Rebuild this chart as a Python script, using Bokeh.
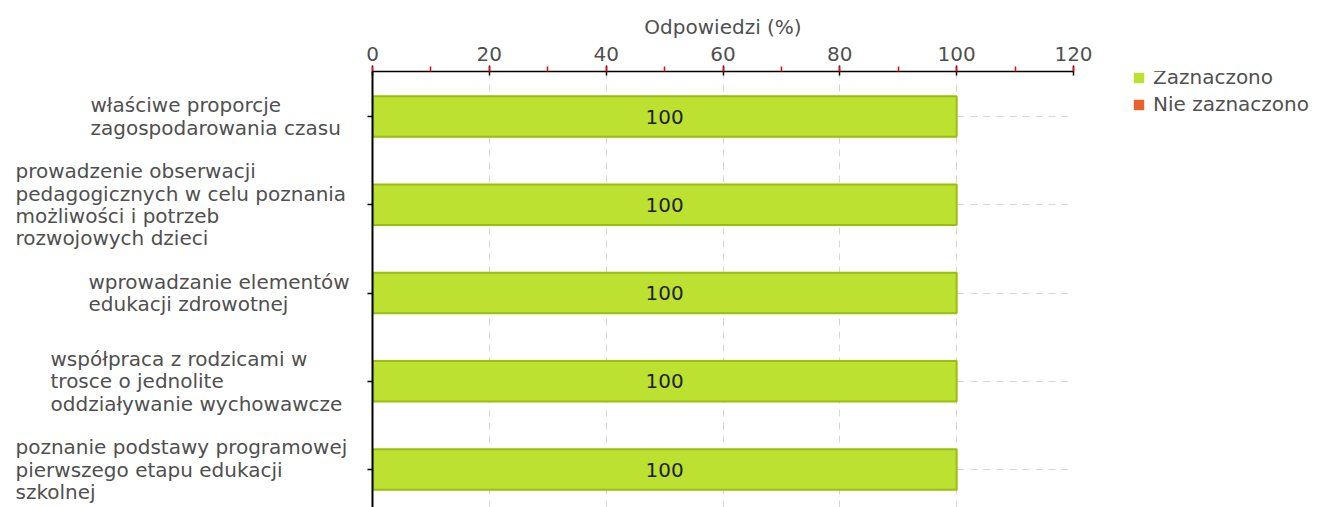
from bokeh.plotting import figure
from bokeh.layouts import row
from bokeh.models import (ColumnDataSource, Range1d, FixedTicker, SingleIntervalTicker,
                          Legend, LegendItem)
from bokeh.core.properties import value
from bokeh.embed import file_html
from bokeh.resources import INLINE

# ---- data ----
categories = [
    "właściwe proporcje\nzagospodarowania czasu",
    "prowadzenie obserwacji\npedagogicznych w celu poznania\nmożliwości i potrzeb\nrozwojowych dzieci",
    "wprowadzanie elementów\nedukacji zdrowotnej",
    "współpraca z rodzicami w\ntrosce o jednolite\noddziaływanie wychowawcze",
    "poznanie podstawy programowej\npierwszego etapu edukacji\nszkolnej",
]
zaznaczono = [100, 100, 100, 100, 100]
nie_zaznaczono = [0, 0, 0, 0, 0]
x_ticks_interval = 20
x_max = 120
axis_title = "Odpowiedzi (%)"
series_names = ["Zaznaczono", "Nie zaznaczono"]

# ---- style / layout ----
FONT = "DejaVu Sans"
GREEN = "#bde130"
GREEN_LINE = "#98bf0c"
ORANGE = "#e8632b"
TXT = "#505050"
label_left_px = [90, 15, 88, 50, 15]   # left edge of each label block
H = 507
TOP = 71
LEFT_W = 360
MAIN_BL = 12
MAIN_BR = 40
FRAME_W = 701
LEG_W = 1317 - LEFT_W - MAIN_BL - FRAME_W - MAIN_BR

idx = list(range(len(categories)))
src = ColumnDataSource(dict(
    y=idx,
    z=zaznaczono,
    nz_left=zaznaczono,
    nz_right=[a + b for a, b in zip(zaznaczono, nie_zaznaczono)],
    zero=[0] * len(idx),
    mid=[v / 2 for v in zaznaczono],
    lab=[str(v) for v in zaznaczono],
    cat=categories,
    lx=label_left_px,
))

y_range = Range1d(start=4.43, end=-0.51)

# ---- main chart ----
p = figure(width=MAIN_BL + FRAME_W + MAIN_BR, height=H, x_range=Range1d(0, x_max),
           y_range=y_range, x_axis_location="above",
           output_backend="svg", toolbar_location=None, min_border_left=MAIN_BL,
           min_border_right=MAIN_BR, min_border_top=TOP, min_border_bottom=0)
p.outline_line_color = None
p.background_fill_color = "white"

xa = p.xaxis[0]
xa.ticker = SingleIntervalTicker(interval=x_ticks_interval, num_minor_ticks=2)
xa.axis_label = axis_title
xa.axis_label_text_font = FONT
xa.axis_label_text_font_size = "20px"
xa.axis_label_text_font_style = "normal"
xa.axis_label_text_color = TXT
xa.axis_label_standoff = 5
xa.major_label_text_font = FONT
xa.major_label_text_font_size = "20px"
xa.major_label_text_color = TXT
xa.major_label_standoff = 5
xa.axis_line_color = "black"
xa.axis_line_width = 1.5
xa.major_tick_line_color = "black"
xa.major_tick_line_width = 1.5
xa.major_tick_out = 6
xa.major_tick_in = 4
xa.minor_tick_line_color = "red"
xa.minor_tick_line_width = 1.5
xa.minor_tick_out = 5
xa.minor_tick_in = 0

ya = p.yaxis[0]
ya.ticker = FixedTicker(ticks=idx)
ya.major_label_overrides = {i: "" for i in idx}
ya.major_label_text_color = None
ya.major_label_standoff = 0
ya.major_tick_out = 5
ya.major_tick_in = 0
ya.minor_tick_line_color = None
ya.axis_line_color = "black"
ya.axis_line_width = 2
ya.major_tick_line_color = "black"
ya.major_tick_line_width = 1.5

# grids
p.xgrid.ticker = SingleIntervalTicker(interval=x_ticks_interval)
p.xgrid.grid_line_color = "#d6d6d6"
p.xgrid.grid_line_dash = "7 6"
p.ygrid.ticker = FixedTicker(ticks=idx)
p.ygrid.grid_line_color = "#d6d6d6"
p.ygrid.grid_line_dash = "7 6"

p.hbar(y="y", left="zero", right="z", height=0.46, source=src,
       fill_color=GREEN, line_color=GREEN_LINE, line_width=2)
p.hbar(y="y", left="nz_left", right="nz_right", height=0.46, source=src,
       fill_color=ORANGE, line_color=None)
p.text(x="mid", y="y", text="lab", source=src, text_align="center",
       text_baseline="middle", text_font=value(FONT), text_font_size="20px",
       text_color="#1e1e1e")

# ---- left panel with category labels ----
lp = figure(width=LEFT_W, height=H, x_range=Range1d(0, LEFT_W), y_range=y_range,
            x_axis_type=None, y_axis_type=None, output_backend="svg",
            toolbar_location=None, min_border_left=0, min_border_right=0,
            min_border_top=TOP, min_border_bottom=0)
lp.outline_line_color = None
lp.grid.visible = False
lp.text(x="lx", y="y", text="cat", source=src, text_align="left",
        text_baseline="middle", text_font=value(FONT), text_font_size="20px",
        text_color=TXT, text_line_height=0.93)

# ---- legend panel (legend swatches use the series' own stacked bars, kept out of view) ----
lg = figure(width=LEG_W, height=H, x_range=Range1d(0, 1), y_range=Range1d(100, 101),
            x_axis_type=None, y_axis_type=None, output_backend="svg",
            toolbar_location=None, min_border=0)
lg.outline_line_color = None
lg.grid.visible = False
g1 = lg.hbar(y="y", left="zero", right="z", height=0.5, source=src,
             fill_color=GREEN, line_color=None)
g2 = lg.hbar(y="y", left="nz_left", right="nz_right", height=0.5, source=src,
             fill_color=ORANGE, line_color=None)
legend = Legend(items=[LegendItem(label=series_names[0], renderers=[g1]),
                       LegendItem(label=series_names[1], renderers=[g2])],
                location=(19, 391), margin=0, padding=0, spacing=3,
                glyph_width=13, glyph_height=13, label_height=24,
                label_standoff=8, label_text_font=FONT,
                label_text_font_size="20px", label_text_color=TXT,
                border_line_color=None, background_fill_alpha=0)
lg.add_layout(legend, "center")

layout = row(lp, p, lg, spacing=0)
open("out.html", "w").write(file_html(layout, INLINE))
